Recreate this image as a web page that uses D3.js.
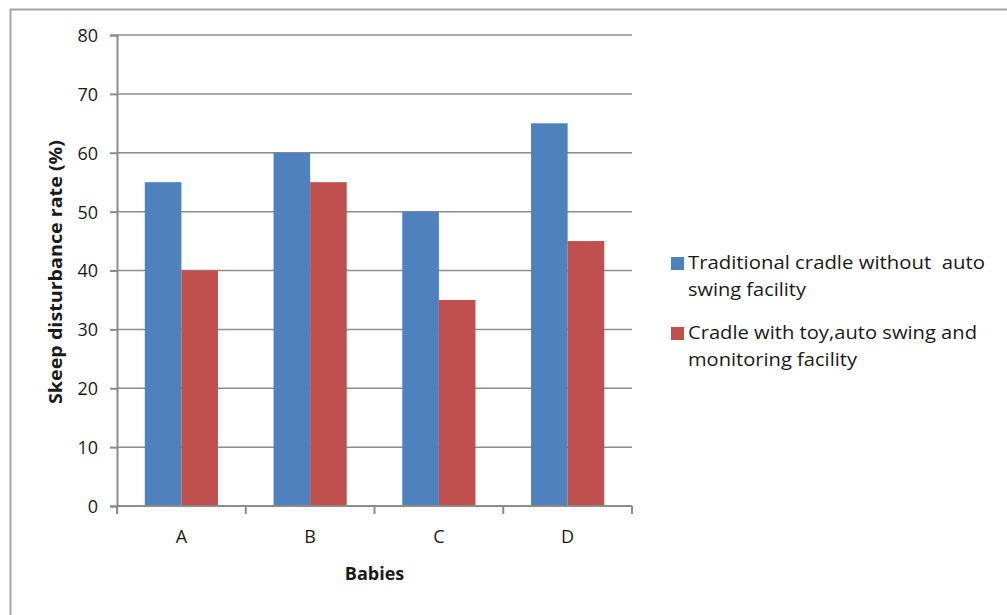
<!DOCTYPE html>
<html><head><meta charset="utf-8">
<script src="https://cdn.jsdelivr.net/npm/d3@7"></script>
<style>
html,body{margin:0;padding:0;background:#fff;}
svg{display:block;}
text{font-family:"Open Sans",Lato,sans-serif;fill:#1a1a1a;white-space:pre;}
</style></head>
<body>
<svg id="chart" width="1007" height="615"></svg>
<script>
const categories = ["A","B","C","D"];
const seriesNames = ["Traditional cradle without  auto swing facility","Cradle with toy,auto swing and monitoring facility"];
const legendLines = [["Traditional cradle without  auto","swing facility"],["Cradle with toy,auto swing and","monitoring facility"]];
const traditional = [55,60,50,65];
const cradleAuto = [40,55,35,45];
const yTicks = [0,10,20,30,40,50,60,70,80];
const colors = ["#4F81BD","#C0504D"];
const yTitle = "Skeep disturbance rate (%)";
const xTitle = "Babies";

const svg = d3.select("#chart");
svg.append("path").attr("d","M10.5,615 L10.5,9.5 L1007,9.5").attr("fill","none").attr("stroke","#a6a6a6").attr("stroke-width",2);

const L=117, R=632, T=35, B=506;
const x = d3.scaleBand().domain(categories).range([L,R]).paddingInner(0).paddingOuter(0);
const y = d3.scaleLinear().domain([0,80]).range([B,T]);
const inner = d3.scaleBand().domain([0,1]).range([0,x.bandwidth()]).paddingInner(0).paddingOuter(0.76);

svg.append("g").selectAll("line").data(yTicks.filter(d=>d>0)).join("line")
  .attr("x1",L).attr("x2",R).attr("y1",d=>y(d)).attr("y2",d=>y(d))
  .attr("stroke","#8c8c8c").attr("stroke-width",1.5);

const data = [traditional, cradleAuto];
data.forEach((vals,s)=>{
  svg.append("g").selectAll("rect").data(categories).join("rect")
    .attr("x",(c)=>x(c)+inner(s))
    .attr("width",inner.bandwidth())
    .attr("y",(c,i)=>y(vals[i]))
    .attr("height",(c,i)=>B-y(vals[i]))
    .attr("fill",colors[s]);
});

const yAxis = d3.axisLeft(y).tickValues(yTicks).tickSize(7).tickPadding(12);
const gy = svg.append("g").attr("transform",`translate(${L},0)`).call(yAxis);
gy.select(".domain").attr("stroke","#8c8c8c").attr("stroke-width",2);
gy.selectAll(".tick line").attr("stroke","#8c8c8c").attr("stroke-width",2);
gy.selectAll(".tick text").attr("font-size",18).attr("font-family","Open Sans").attr("fill","#1a1a1a").attr("dy","0.36em");

const gx = svg.append("g").attr("transform",`translate(0,${B})`).call(d3.axisBottom(x).tickSize(0).tickPadding(24));
gx.select(".domain").attr("stroke","#8c8c8c").attr("stroke-width",2).attr("d",`M${L},0H${R}`);
gx.selectAll(".tick text").attr("font-size",18).attr("font-family","Open Sans").attr("fill","#1a1a1a");
const bounds = categories.map(c=>x(c)).concat([R]);
svg.append("g").selectAll("line").data(bounds).join("line")
  .attr("x1",d=>d).attr("x2",d=>d).attr("y1",B).attr("y2",B+8)
  .attr("stroke","#8c8c8c").attr("stroke-width",2);

svg.append("text").attr("x",(L+R)/2).attr("y",580).attr("text-anchor","middle")
  .attr("font-size",18).attr("font-weight","bold").text(xTitle);
svg.append("text").attr("transform","translate(62,272) rotate(-90)").attr("text-anchor","middle")
  .attr("font-size",18).attr("font-weight","bold")
  .attr("textLength",264).attr("lengthAdjust","spacingAndGlyphs").text(yTitle);

const lg = svg.append("g");
const legY = [257, 327];
const legW = [[297,118],[289,169]];
legendLines.forEach((lines,i)=>{
  lg.append("rect").attr("x",671).attr("y",legY[i]).attr("width",13).attr("height",13).attr("fill",colors[i]);
  lines.forEach((ln,j)=>{
    lg.append("text").attr("x",688).attr("y",legY[i]+12+j*27).attr("font-size",18)
      .attr("textLength",legW[i][j]).attr("lengthAdjust","spacingAndGlyphs").text(ln);
  });
});
</script>
</body></html>
